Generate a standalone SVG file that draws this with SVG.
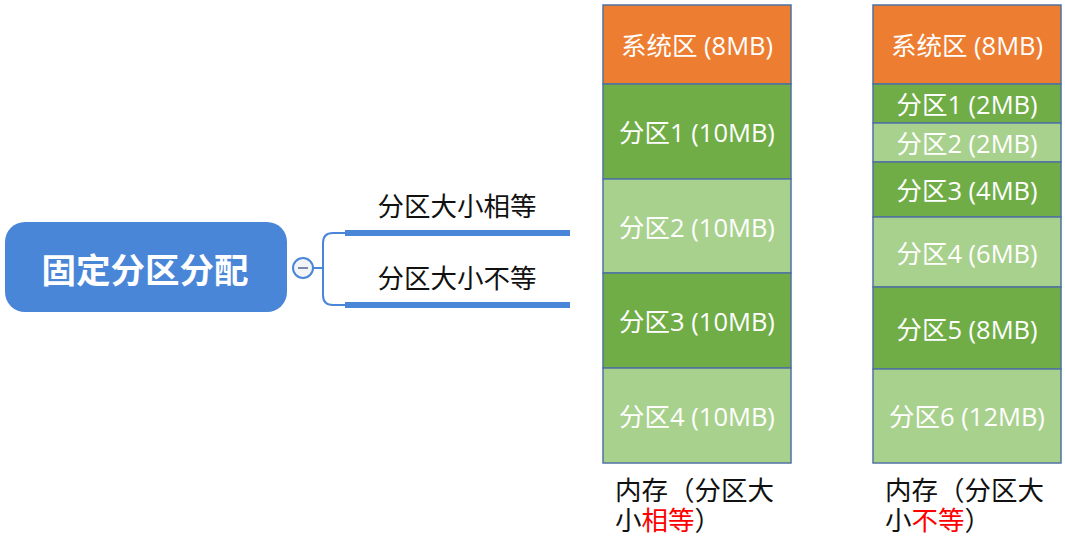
<svg xmlns="http://www.w3.org/2000/svg" width="1065" height="537" viewBox="0 0 1065 537">
<style>
.cell{stroke:#4F73A0;stroke-width:1.5}
.sys{fill:#ED7D31}
.dk{fill:#70AD47}
.lt{fill:#A9D18E}
.ct{font-family:"Open Sans","Noto Sans CJK SC",sans-serif;font-size:25.5px;fill:#fff;text-anchor:middle;dominant-baseline:central}
.lab{font-family:"Noto Sans CJK SC",sans-serif;font-size:26.5px;fill:#111;text-anchor:middle}
.cap{font-family:"Liberation Serif","Noto Sans CJK SC",serif;font-size:26.5px;fill:#111}
.red{fill:#FF0000}
.conn{fill:none;stroke:#4A86D8}
</style>
<g id="root">
<rect x="5" y="222" width="282" height="90" rx="20" fill="#4A86D8"/>
<text x="145" y="268" font-family="Noto Sans CJK SC,sans-serif" font-size="34.5" font-weight="bold" fill="#fff" text-anchor="middle" dominant-baseline="central">固定分区分配</text>
</g>
<g id="collapse">
<circle cx="303" cy="268" r="10" fill="#F2F4F8" stroke="#4A86D8" stroke-width="2"/>
<line x1="298" y1="268" x2="308" y2="268" stroke="#7A8AA8" stroke-width="2"/>
</g>
<g id="connectors">
<path class="conn" stroke-width="2" d="M313 268 H322 M345 233 H333 Q323 233 323 243 V295 Q323 305 333 305 H345"/>
<line class="conn" x1="345" y1="233" x2="570" y2="233" stroke-width="6"/>
<line class="conn" x1="345" y1="305" x2="570" y2="305" stroke-width="6"/>
</g>
<g id="branch1"><text class="lab" x="457" y="216">分区大小相等</text></g>
<g id="branch2"><text class="lab" x="457" y="288">分区大小不等</text></g>
<g id="mem-equal">
<rect class="cell sys" x="603" y="5" width="188" height="79"/>
<rect class="cell dk" x="603" y="84" width="188" height="95"/>
<rect class="cell lt" x="603" y="179" width="188" height="94"/>
<rect class="cell dk" x="603" y="273" width="188" height="95"/>
<rect class="cell lt" x="603" y="368" width="188" height="95"/>
<text class="ct" x="697" y="45">系统区 (8MB)</text>
<text class="ct" x="697" y="132">分区1 (10MB)</text>
<text class="ct" x="697" y="227">分区2 (10MB)</text>
<text class="ct" x="697" y="321">分区3 (10MB)</text>
<text class="ct" x="697" y="416">分区4 (10MB)</text>
<text class="cap" x="615" y="500">内存（分区大</text>
<text class="cap" x="615" y="530">小<tspan class="red">相等</tspan>）</text>
</g>
<g id="mem-unequal">
<rect class="cell sys" x="873" y="5" width="188" height="79"/>
<rect class="cell dk" x="873" y="84" width="188" height="39"/>
<rect class="cell lt" x="873" y="123" width="188" height="39"/>
<rect class="cell dk" x="873" y="162" width="188" height="55"/>
<rect class="cell lt" x="873" y="217" width="188" height="70"/>
<rect class="cell dk" x="873" y="287" width="188" height="82"/>
<rect class="cell lt" x="873" y="369" width="188" height="94"/>
<text class="ct" x="967" y="45">系统区 (8MB)</text>
<text class="ct" x="967" y="104">分区1 (2MB)</text>
<text class="ct" x="967" y="143">分区2 (2MB)</text>
<text class="ct" x="967" y="190">分区3 (4MB)</text>
<text class="ct" x="967" y="253">分区4 (6MB)</text>
<text class="ct" x="967" y="329">分区5 (8MB)</text>
<text class="ct" x="967" y="416">分区6 (12MB)</text>
<text class="cap" x="885" y="500">内存（分区大</text>
<text class="cap" x="885" y="530">小<tspan class="red">不等</tspan>）</text>
</g>
</svg>
